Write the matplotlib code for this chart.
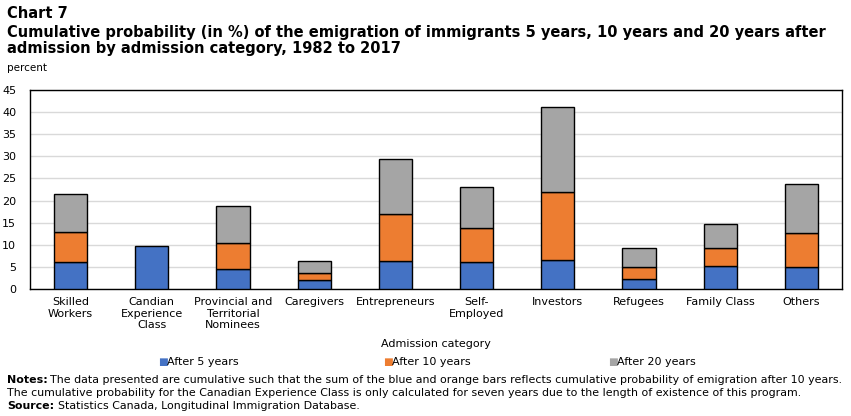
import matplotlib.pyplot as plt
import numpy as np

categories = ["Skilled\nWorkers", "Candian\nExperience\nClass", "Provincial and\nTerritorial\nNominees",
              "Caregivers", "Entrepreneurs", "Self-\nEmployed", "Investors", "Refugees",
              "Family Class", "Others"]
# cumulative probability (%)
after_5 = [6.0, 9.7, 4.45, 1.95, 6.25, 6.0, 6.5, 2.2, 5.1, 4.9]
after_10 = [12.8, 9.7, 10.3, 3.55, 16.9, 13.7, 21.9, 4.9, 9.2, 12.6]
after_20 = [21.4, 9.7, 18.7, 6.25, 29.3, 23.0, 41.1, 9.2, 14.6, 23.7]
series_names = ["After 5 years", "After 10 years", "After 20 years"]
colors = ["#4472c4", "#ed7d31", "#a5a5a5"]

plt.rcParams['font.family'] = 'DejaVu Sans'

fig = plt.figure(figsize=(8.51, 4.16), dpi=100)
ax = fig.add_axes([30 / 851, 1 - 289 / 416, 812 / 851, 199 / 416])

x = np.arange(len(categories))
a5 = np.array(after_5)
a10 = np.array(after_10)
a20 = np.array(after_20)
segs = [a5, a10 - a5, a20 - a10]
bottoms = [np.zeros(len(x)), a5, a10]
for seg, bot, col, name in zip(segs, bottoms, colors, series_names):
    keep = seg > 0  # no empty segments (Canadian Experience Class)
    ax.bar(x[keep], seg[keep], bottom=bot[keep], width=0.41, color=col,
           edgecolor="black", linewidth=1.0, label=name, zorder=3)

ax.set_xlim(-0.5, len(x) - 0.5)
ax.set_ylim(0, 45)
ax.set_yticks(np.arange(0, 46, 5))
ax.grid(axis="y", color="#d9d9d9", linewidth=1.0, zorder=0)
ax.set_xticks(x)
ax.set_xticklabels(categories, fontsize=8, linespacing=1.15)
ax.tick_params(axis="both", length=0, labelsize=8, pad=6)
ax.tick_params(axis="y", pad=10)
for s in ax.spines.values():
    s.set_color("black")
    s.set_linewidth(1.0)
ax.set_xlabel("Admission category", fontsize=8, labelpad=7)

fig.text(7 / 851, 1 - 68 / 416, "percent", fontsize=7.5, va="center")

title_kw = dict(fontsize=11.7, fontweight="bold", fontstretch="condensed", va="center")
fig.text(7 / 851, 1 - 13 / 416, "Chart 7", **title_kw)
fig.text(7 / 851, 1 - 32 / 416,
         "Cumulative probability (in %) of the emigration of immigrants 5 years, 10 years and 20 years after",
         **title_kw)
fig.text(7 / 851, 1 - 48 / 416, "admission by admission category, 1982 to 2017", **title_kw)

leg_x = [158, 383, 608]
for lx, col, name in zip(leg_x, colors, series_names):
    fig.text(lx / 851, 1 - 362 / 416, "\u25A0", color=col, fontsize=7.5, va="center")
    fig.text((lx + 9) / 851, 1 - 362 / 416, name, fontsize=8, va="center")

note_kw = dict(fontsize=7.95, va="center")
fig.text(7 / 851, 1 - 380 / 416, "Notes:", fontweight="bold", **note_kw)
fig.text(50 / 851, 1 - 380 / 416,
         "The data presented are cumulative such that the sum of the blue and orange bars reflects cumulative probability of emigration after 10 years.",
         **note_kw)
fig.text(7 / 851, 1 - 393 / 416,
         "The cumulative probability for the Canadian Experience Class is only calculated for seven years due to the length of existence of this program.",
         **note_kw)
fig.text(7 / 851, 1 - 406 / 416, "Source:", fontweight="bold", **note_kw)
fig.text(58 / 851, 1 - 406 / 416, "Statistics Canada, Longitudinal Immigration Database.", **note_kw)

fig.savefig("out.png", dpi=100)
